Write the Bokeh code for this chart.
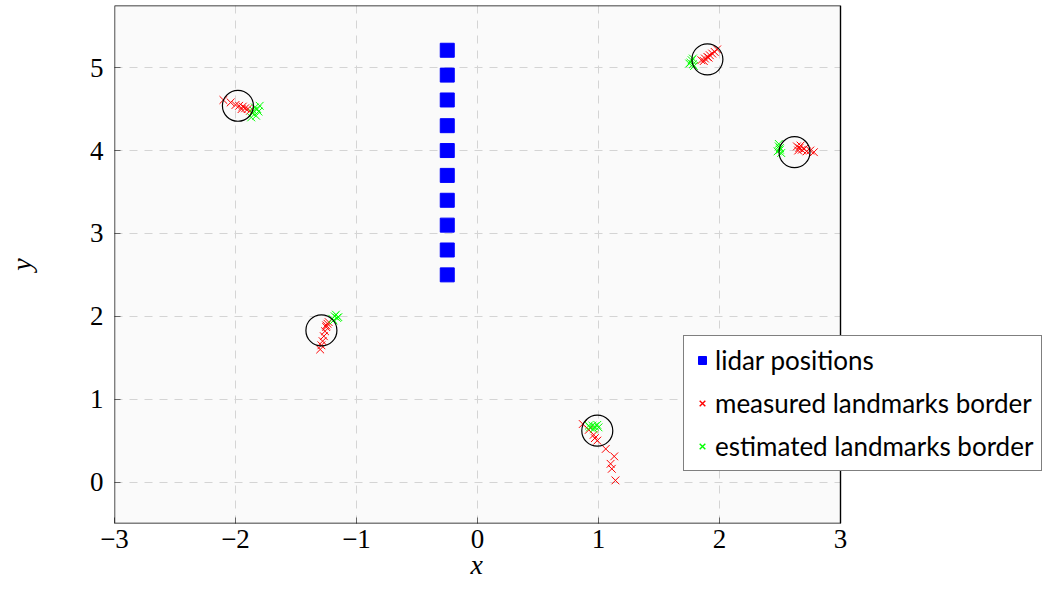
import math
from bokeh.plotting import figure
from bokeh.models import (ColumnDataSource, Legend, LegendItem, FixedTicker,
                          BoxAnnotation, Title)
from bokeh.embed import file_html
from bokeh.resources import INLINE

# ---- data ----
lidar_x = [-0.25, -0.25, -0.25, -0.25, -0.25, -0.25, -0.25, -0.25, -0.25, -0.25]
lidar_y = [2.50, 2.80, 3.10, 3.40, 3.70, 4.00, 4.30, 4.61, 4.91, 5.21]

landmark_x = [-1.98, 1.90, 2.62, -1.29, 0.99]
landmark_y = [4.54, 5.10, 3.98, 1.83, 0.62]

measured_x = [-2.10, -2.04, -2.00, -1.97, -1.94, -1.92, -1.90, -1.88, -1.95,
              1.85, 1.87, 1.88, 1.90, 1.91, 1.92, 1.94, 1.96, 1.98,
              2.64, 2.66, 2.68, 2.70, 2.72, 2.67, 2.75, 2.78, 2.65,
              -1.30, -1.29, -1.28, -1.27, -1.26, -1.25, -1.24, -1.23, -1.25,
              0.87, 0.92, 0.96, 0.97, 0.99, 1.06, 1.13, 1.10, 1.11, 1.14]
measured_y = [4.61, 4.58, 4.55, 4.54, 4.53, 4.51, 4.50, 4.48, 4.50,
              5.09, 5.08, 5.11, 5.13, 5.12, 5.15, 5.17, 5.19, 5.22,
              4.05, 4.03, 4.01, 4.02, 3.99, 4.06, 4.00, 3.98, 4.00,
              1.60, 1.65, 1.70, 1.76, 1.82, 1.87, 1.91, 1.93, 1.89,
              0.70, 0.63, 0.57, 0.53, 0.50, 0.40, 0.31, 0.22, 0.16, 0.02]

estimated_x = [-1.84, -1.82, -1.86, -1.83, -1.80, -1.85, -1.81, -1.87,
               1.76, 1.78, 1.77, 1.79, 1.78, 1.75,
               2.49, 2.50, 2.48, 2.51, 2.50, 2.49,
               -1.18, -1.16, -1.20, -1.17, -1.15, -1.19,
               0.93, 0.95, 0.97, 0.99, 0.96, 1.00, 0.92]
estimated_y = [4.52, 4.50, 4.45, 4.42, 4.54, 4.48, 4.47, 4.40,
               5.06, 5.04, 5.09, 5.02, 5.11, 5.05,
               4.08, 4.03, 3.99, 3.97, 4.01, 4.05,
               2.00, 1.98, 1.97, 2.02, 1.99, 1.95,
               0.66, 0.68, 0.67, 0.69, 0.64, 0.66, 0.68]

x_ticks = [-3, -2, -1, 0, 1, 2, 3]
x_tick_labels = ["\u22123", "\u22122", "\u22121", "0", "1", "2", "3"]
y_ticks = [0, 1, 2, 3, 4, 5]
y_tick_labels = ["0", "1", "2", "3", "4", "5"]

legend_labels = ["lidar positions", "measured landmarks border", "estimated landmarks border"]

RED, GREEN, BLUE = "#ff0000", "#00ff00", "#0000ff"

# axis limits of the data area
X_MIN, X_MAX = -3, 3
Y_MIN, Y_MAX = -0.5, 5.75

# ---- figure ----
W, H = 1044, 581
LEFT = 114
BOTTOM = 58
PLOT_W = 726  # pixel width of the data area (x from -3 to 3)
# the frame is widened to the canvas edge so the legend can stick out of the axes box
x_end = X_MIN + (X_MAX - X_MIN) * (W - LEFT) / PLOT_W

p = figure(width=W, height=H, x_range=(X_MIN, x_end), y_range=(Y_MIN, Y_MAX),
           output_backend="svg", toolbar_location=None,
           min_border_left=LEFT, min_border_right=0,
           min_border_top=5, min_border_bottom=BOTTOM,
           y_axis_label="y")

p.background_fill_color = "white"
p.border_fill_color = "white"
p.outline_line_color = None

# axes-box background
p.add_layout(BoxAnnotation(left=X_MIN, right=X_MAX, bottom=Y_MIN, top=Y_MAX,
                           fill_color="#fafafa", fill_alpha=1, line_color=None,
                           level="image"))

serif = "Liberation Serif"
for ax in (p.xaxis[0], p.yaxis[0]):
    ax.axis_line_color = None
    ax.major_tick_in = 6
    ax.major_tick_out = 0
    ax.major_tick_line_color = "#666666"
    ax.minor_tick_line_color = None
    ax.major_label_text_font = serif
    ax.major_label_text_font_size = "27px"
    ax.major_label_text_color = "black"
    ax.axis_label_text_font = serif
    ax.axis_label_text_font_size = "28px"
    ax.axis_label_text_font_style = "italic"
    ax.axis_label_text_color = "black"

p.xaxis[0].ticker = FixedTicker(ticks=x_ticks)
p.xaxis[0].major_label_overrides = dict(zip(x_ticks, x_tick_labels))
p.xaxis[0].major_label_standoff = 6
p.yaxis[0].ticker = FixedTicker(ticks=y_ticks)
p.yaxis[0].major_label_overrides = dict(zip(y_ticks, y_tick_labels))
p.yaxis[0].major_label_standoff = 11
p.yaxis[0].axis_label_standoff = 50

# x axis label, centred under x = 0
xlabel = Title(text="x", align="left", offset=int(PLOT_W / 2) - 7, standoff=-8,
               text_font=serif, text_font_size="28px", text_font_style="italic",
               text_color="black")
p.add_layout(xlabel, "below")

for g in (p.xgrid[0], p.ygrid[0]):
    g.grid_line_color = "#d4d4d4"
    g.grid_line_dash = "8 7"
    g.grid_line_width = 1
p.xgrid[0].ticker = FixedTicker(ticks=x_ticks)
p.ygrid[0].ticker = FixedTicker(ticks=y_ticks)

# hide the grid outside the axes box
p.add_layout(BoxAnnotation(left=X_MAX, fill_color="white", fill_alpha=1,
                           line_color=None, level="underlay"))

src_lidar = ColumnDataSource(dict(x=lidar_x, y=lidar_y))
src_meas = ColumnDataSource(dict(x=measured_x, y=measured_y))
src_est = ColumnDataSource(dict(x=estimated_x, y=estimated_y))
src_land = ColumnDataSource(dict(x=landmark_x, y=landmark_y))

r_lidar = p.scatter("x", "y", source=src_lidar, marker="square", size=14,
                    fill_color=BLUE, line_color=BLUE)
r_meas = p.scatter("x", "y", source=src_meas, marker="cross", size=11, angle=math.pi / 4,
                   fill_color=None, line_color=RED, line_alpha=1, line_width=1)
r_est = p.scatter("x", "y", source=src_est, marker="cross", size=11, angle=math.pi / 4,
                  fill_color=None, line_color=GREEN, line_alpha=1, line_width=1)
p.scatter("x", "y", source=src_land, marker="circle", size=31,
          fill_color=None, line_color="black", line_width=1.2)

# legend-only glyphs (a single undrawn NaN point) showing the x marker
nan_src = ColumnDataSource(dict(x=[float("nan")], y=[float("nan")]))
l_meas = p.scatter("x", "y", source=nan_src, marker="x", size=11,
                   fill_color=None, line_color=RED, line_alpha=1, line_width=1.4)
l_est = p.scatter("x", "y", source=nan_src, marker="x", size=11,
                  fill_color=None, line_color=GREEN, line_alpha=1, line_width=1.4)

# axes box outline
p.add_layout(BoxAnnotation(left=X_MIN, right=X_MAX, bottom=Y_MIN, top=Y_MAX,
                           fill_color=None, line_color="black", line_alpha=1,
                           line_width=1.4))

legend = Legend(items=[LegendItem(label=legend_labels[0], renderers=[r_lidar]),
                       LegendItem(label=legend_labels[1], renderers=[l_meas]),
                       LegendItem(label=legend_labels[2], renderers=[l_est])],
                location=(569, 52))
legend.label_text_font = "Lato"
legend.label_text_font_size = "26px"
legend.label_text_color = "black"
legend.border_line_color = "black"
legend.border_line_width = 1
legend.background_fill_color = "white"
legend.background_fill_alpha = 1
legend.glyph_width = 20
legend.glyph_height = 30
legend.label_standoff = 3
legend.padding = 8
legend.spacing = 11
legend.margin = 0
p.add_layout(legend, "center")

open("out.html", "w").write(file_html(p, INLINE))
